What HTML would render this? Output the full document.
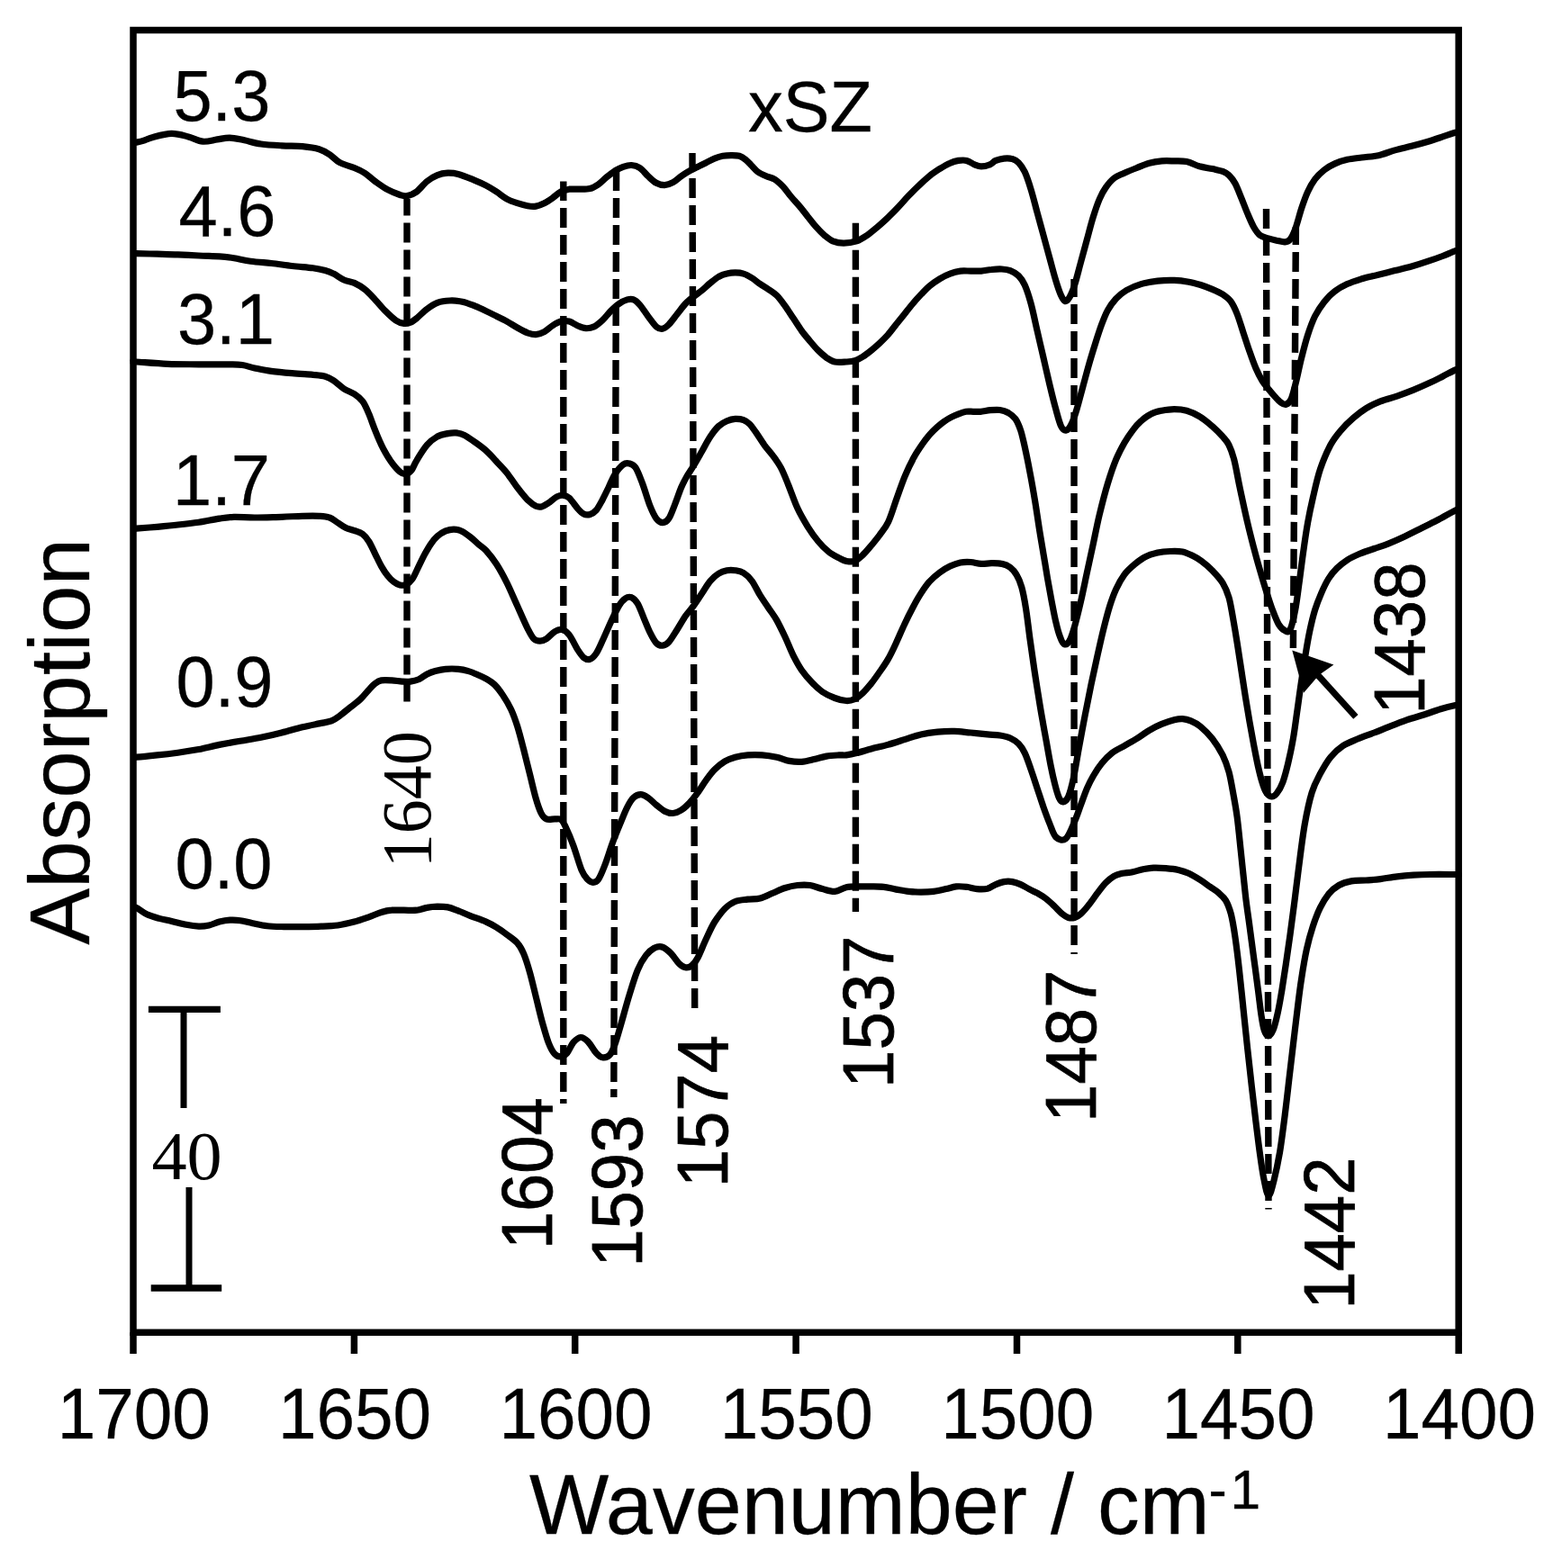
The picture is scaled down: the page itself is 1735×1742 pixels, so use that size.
<!DOCTYPE html>
<html><head><meta charset="utf-8"><title>FTIR spectra</title>
<style>html,body{margin:0;padding:0;background:#fff}svg{display:block}</style>
</head><body>
<svg width="1735" height="1742" viewBox="0 0 1735 1742">
<rect x="0" y="0" width="1735" height="1742" fill="#fff"/>
<path d="M148.0 158.1C148.6 158.1 149.4 158.5 151.5 158.1C153.7 157.7 157.7 156.8 160.7 155.8C163.8 154.9 165.0 153.6 170.0 152.4C175.0 151.1 184.2 148.5 190.7 148.4C197.3 148.4 203.4 150.4 209.2 151.9C214.9 153.4 219.9 156.7 225.3 157.2C230.7 157.7 236.4 155.6 241.4 154.9C246.4 154.2 250.3 152.9 255.3 153.1C260.3 153.2 265.6 154.7 271.4 155.8C277.2 157.0 282.9 159.0 289.9 160.0C296.8 161.0 305.2 161.4 312.9 161.8C320.6 162.3 329.0 162.1 336.0 162.7C342.9 163.4 349.4 164.3 354.4 165.7C359.4 167.2 362.1 169.0 365.9 171.5C369.8 174.0 372.9 178.2 377.5 180.7C382.1 183.2 389.0 184.6 393.6 186.5C398.2 188.4 401.3 189.8 405.1 192.2C409.0 194.7 412.4 198.4 416.7 201.5C420.9 204.5 425.9 208.2 430.5 210.7C435.1 213.2 440.7 215.3 444.3 216.5C448.0 217.6 449.3 218.2 452.4 217.6C455.5 217.0 459.1 215.7 462.8 213.0C466.4 210.3 470.5 204.5 474.3 201.5C478.1 198.4 482.0 196.1 485.8 194.6C489.7 193.0 493.5 192.4 497.3 192.2C501.2 192.1 503.9 192.1 508.9 193.4C513.9 194.7 522.1 198.2 527.3 200.3C532.5 202.4 536.0 204.0 540.0 206.1C544.0 208.2 547.7 210.5 551.5 213.0C555.4 215.5 559.2 219.0 563.1 221.1C566.9 223.2 570.7 224.4 574.6 225.7C578.4 226.9 582.7 228.1 586.1 228.7C589.6 229.3 592.3 229.6 595.3 229.1C598.4 228.6 601.5 227.2 604.6 225.7C607.6 224.1 610.7 222.0 613.8 219.9C616.8 217.8 619.9 214.6 623.0 213.0C626.1 211.4 628.8 210.7 632.2 210.2C635.7 209.8 639.9 210.3 643.7 210.2C647.6 210.1 651.8 210.4 655.3 209.5C658.7 208.7 661.4 207.0 664.5 204.9C667.6 202.8 670.6 199.4 673.7 196.9C676.8 194.4 679.9 191.9 682.9 189.9C686.0 188.0 689.1 186.4 692.2 185.3C695.2 184.3 698.3 183.3 701.4 183.5C704.5 183.7 707.5 184.4 710.6 186.5C713.7 188.5 716.8 192.9 719.8 195.7C722.9 198.5 726.0 201.7 729.0 203.3C732.1 205.0 735.2 205.7 738.3 205.6C741.3 205.5 744.4 204.3 747.5 202.6C750.6 201.0 753.6 197.8 756.7 195.7C759.8 193.6 762.9 191.7 765.9 189.9C769.0 188.2 772.1 186.9 775.2 185.3C778.2 183.8 781.3 182.3 784.4 180.7C787.5 179.2 790.5 177.3 793.6 176.1C796.7 174.9 799.8 173.9 802.8 173.3C805.9 172.8 809.0 172.7 812.0 172.7C815.1 172.7 818.6 172.6 821.3 173.3C824.0 174.1 825.9 175.5 828.2 177.3C830.5 179.1 832.8 181.9 835.1 184.2C837.4 186.5 839.3 189.2 842.0 191.1C844.7 193.0 848.2 194.4 851.2 195.7C854.3 197.1 857.4 197.2 860.5 199.2C863.5 201.1 866.6 204.0 869.7 207.2C872.8 210.5 875.8 215.1 878.9 218.8C882.0 222.4 885.1 225.5 888.1 229.1C891.2 232.8 894.3 236.8 897.3 240.7C900.4 244.5 903.5 248.7 906.6 252.2C909.6 255.6 912.7 258.8 915.8 261.4C918.9 264.0 921.5 266.4 925.0 267.9C928.6 269.3 932.7 270.2 937.1 270.2C941.5 270.2 947.2 269.3 951.5 267.9C955.9 266.4 959.2 264.0 963.1 261.4C966.9 258.8 970.7 255.5 974.6 252.2C978.4 248.9 982.3 245.5 986.1 241.8C990.0 238.2 993.8 234.3 997.6 230.3C1001.5 226.3 1005.3 221.6 1009.2 217.6C1013.0 213.6 1016.8 209.7 1020.7 206.1C1024.5 202.4 1028.4 198.8 1032.2 195.7C1036.1 192.6 1039.9 190.1 1043.7 187.6C1047.6 185.2 1051.8 182.7 1055.3 181.2C1058.7 179.6 1061.4 178.9 1064.5 178.4C1067.6 178.0 1070.6 177.6 1073.7 178.4C1076.8 179.2 1080.2 182.0 1082.9 183.0C1085.6 184.1 1087.2 184.9 1089.9 184.9C1092.5 184.9 1096.4 184.1 1099.1 183.0C1101.8 182.0 1103.3 179.6 1106.0 178.4C1108.7 177.3 1112.1 176.4 1115.2 176.1C1118.3 175.8 1121.7 175.8 1124.4 176.6C1127.1 177.3 1129.0 178.3 1131.4 180.7C1133.7 183.1 1136.0 186.1 1138.3 191.1C1140.6 196.1 1142.9 203.2 1145.2 210.7C1147.5 218.2 1149.8 227.6 1152.1 236.1C1154.4 244.5 1156.7 253.0 1159.0 261.4C1161.3 269.9 1163.6 278.3 1165.9 286.8C1168.2 295.2 1170.7 305.2 1172.9 312.1C1175.0 319.0 1176.9 324.5 1178.6 328.3C1180.3 332.0 1181.7 334.3 1183.2 334.7C1184.8 335.1 1186.1 333.6 1187.8 330.6C1189.6 327.6 1191.5 323.3 1193.6 316.7C1195.7 310.2 1198.2 299.8 1200.5 291.4C1202.8 282.9 1205.1 274.5 1207.4 266.0C1209.7 257.6 1212.0 248.2 1214.4 240.7C1216.7 233.2 1219.0 226.4 1221.3 221.1C1223.6 215.7 1225.5 212.2 1228.2 208.4C1230.9 204.5 1233.9 200.7 1237.4 198.0C1240.9 195.3 1244.7 194.2 1248.9 192.2C1253.2 190.3 1258.2 188.3 1262.8 186.5C1267.4 184.6 1272.0 182.4 1276.6 181.2C1281.2 179.9 1285.8 179.3 1290.4 178.9C1295.0 178.5 1299.7 178.8 1304.3 178.9C1308.9 179.0 1313.4 178.6 1318.1 179.6C1322.8 180.5 1327.6 183.4 1332.3 184.8C1337.1 186.1 1342.2 186.7 1346.5 187.6C1350.8 188.6 1355.0 189.3 1358.1 190.4C1361.1 191.6 1362.7 192.3 1365.0 194.6C1367.3 196.8 1369.6 199.5 1371.9 203.8C1374.2 208.0 1376.5 214.3 1378.8 219.9C1381.1 225.5 1383.4 231.8 1385.7 237.2C1388.0 242.6 1390.3 248.2 1392.6 252.2C1394.9 256.2 1396.9 259.3 1399.6 261.4C1402.2 263.5 1405.7 263.9 1408.8 264.9C1411.8 265.8 1414.9 266.5 1418.0 267.2C1421.1 267.8 1424.7 269.0 1427.2 268.8C1429.7 268.6 1431.1 268.4 1433.0 266.0C1434.9 263.6 1436.6 260.3 1438.7 254.5C1440.9 248.7 1443.4 238.4 1445.7 231.4C1448.0 224.5 1450.1 218.4 1452.6 213.0C1455.1 207.6 1457.6 203.2 1460.6 199.2C1463.7 195.1 1467.4 191.7 1471.0 188.8C1474.7 185.9 1478.3 183.8 1482.6 181.9C1486.8 180.0 1491.4 178.4 1496.4 177.3C1501.4 176.1 1506.8 175.7 1512.5 175.0C1518.3 174.2 1524.8 174.0 1531.0 172.7C1537.1 171.3 1543.3 168.6 1549.4 166.9C1555.6 165.2 1561.7 163.9 1567.9 162.3C1574.0 160.7 1580.5 158.9 1586.3 157.2C1592.1 155.5 1597.4 153.6 1602.4 151.9C1607.5 150.2 1613.8 148.1 1616.7 147.3C1619.7 146.5 1619.6 147.3 1620.2 147.3" fill="none" stroke="#000" stroke-width="7.2" stroke-linejoin="round" stroke-linecap="butt"/>
<path d="M148.0 281.7C148.6 281.7 147.1 281.6 151.5 281.7C156.0 281.8 166.9 282.0 174.6 282.2C182.3 282.4 190.0 282.5 197.6 282.9C205.3 283.2 213.0 283.7 220.7 284.0C228.4 284.4 237.2 284.5 243.7 284.9C250.3 285.4 254.1 285.9 259.9 286.8C265.6 287.7 271.4 289.3 278.3 290.2C285.2 291.2 293.7 291.7 301.4 292.5C309.1 293.4 316.8 294.6 324.4 295.5C332.1 296.4 341.3 297.0 347.5 297.8C353.6 298.7 357.5 299.6 361.3 300.6C365.2 301.6 367.1 302.3 370.5 304.1C374.0 305.8 378.2 309.3 382.1 311.0C385.9 312.7 389.8 312.7 393.6 314.4C397.4 316.2 401.3 318.3 405.1 321.4C409.0 324.4 412.8 328.8 416.7 332.9C420.5 336.9 424.3 341.7 428.2 345.6C432.0 349.4 436.3 353.6 439.7 355.9C443.2 358.2 446.2 359.0 448.9 359.4C451.6 359.8 453.5 359.2 455.9 358.2C458.2 357.3 459.7 356.1 462.8 353.6C465.8 351.1 470.5 346.1 474.3 343.3C478.1 340.4 481.6 337.9 485.8 336.3C490.0 334.8 495.0 334.2 499.7 334.0C504.3 333.8 508.9 334.2 513.5 335.2C518.1 336.1 522.9 338.1 527.3 339.8C531.7 341.5 536.0 343.6 540.0 345.6C544.0 347.5 547.7 349.4 551.5 351.3C555.4 353.2 559.2 355.0 563.1 357.1C566.9 359.2 570.7 361.9 574.6 364.0C578.4 366.1 582.7 368.5 586.1 369.8C589.6 371.0 592.3 371.8 595.3 371.6C598.4 371.4 601.5 370.3 604.6 368.6C607.6 367.0 610.7 363.6 613.8 361.7C616.8 359.8 619.9 357.9 623.0 357.1C626.1 356.3 629.1 356.3 632.2 357.1C635.3 357.9 638.4 360.4 641.4 361.7C644.5 363.0 647.6 364.5 650.7 364.7C653.7 364.9 656.8 364.3 659.9 362.9C663.0 361.4 666.0 358.8 669.1 355.9C672.2 353.1 675.3 348.6 678.3 345.6C681.4 342.5 684.5 339.6 687.6 337.5C690.6 335.4 694.1 333.7 696.8 332.9C699.5 332.1 701.4 331.9 703.7 332.9C706.0 333.8 707.9 335.6 710.6 338.6C713.3 341.7 716.8 347.3 719.8 351.3C722.9 355.4 726.4 360.5 729.0 362.9C731.7 365.2 733.7 365.5 736.0 365.2C738.3 364.8 740.2 363.2 742.9 360.5C745.6 357.9 749.0 352.9 752.1 349.0C755.2 345.2 758.3 340.8 761.3 337.5C764.4 334.2 767.5 331.9 770.5 329.4C773.6 326.9 776.7 325.0 779.8 322.5C782.8 320.0 785.9 316.9 789.0 314.4C792.1 311.9 795.1 309.3 798.2 307.5C801.3 305.8 804.4 304.8 807.4 304.1C810.5 303.3 813.6 302.9 816.7 302.9C819.7 302.9 822.8 303.1 825.9 304.1C829.0 305.0 832.0 306.8 835.1 308.7C838.2 310.6 841.2 313.5 844.3 315.6C847.4 317.7 850.5 319.2 853.5 321.4C856.6 323.5 859.7 325.2 862.8 328.3C865.8 331.3 868.9 335.6 872.0 339.8C875.1 344.0 878.1 349.0 881.2 353.6C884.3 358.2 887.4 363.2 890.4 367.5C893.5 371.7 896.6 375.3 899.7 379.0C902.7 382.6 905.8 386.3 908.9 389.4C912.0 392.4 915.0 395.3 918.1 397.4C921.2 399.5 923.7 401.3 927.3 402.0C931.0 402.8 936.3 402.2 940.0 402.0C943.7 401.9 946.1 401.9 949.2 400.9C952.3 399.9 955.4 398.2 958.4 396.3C961.5 394.4 964.6 391.9 967.7 389.4C970.7 386.9 973.8 384.2 976.9 381.3C980.0 378.4 983.0 375.5 986.1 372.1C989.2 368.6 992.3 364.4 995.3 360.5C998.4 356.7 1001.5 352.9 1004.6 349.0C1007.6 345.2 1010.7 341.1 1013.8 337.5C1016.8 333.8 1019.9 330.4 1023.0 327.1C1026.1 323.9 1028.8 320.8 1032.2 317.9C1035.7 315.0 1039.9 312.1 1043.7 309.8C1047.6 307.5 1051.4 305.5 1055.3 304.1C1059.1 302.6 1063.0 301.6 1066.8 301.1C1070.6 300.6 1074.5 301.1 1078.3 301.1C1082.2 301.1 1086.0 301.3 1089.9 301.1C1093.7 300.8 1097.5 299.8 1101.4 299.5C1105.2 299.1 1109.5 298.8 1112.9 299.0C1116.4 299.2 1119.1 299.4 1122.1 300.6C1125.2 301.8 1128.7 303.7 1131.4 306.4C1134.0 309.1 1136.0 311.6 1138.3 316.7C1140.6 321.9 1142.9 329.0 1145.2 337.5C1147.5 345.9 1149.8 357.5 1152.1 367.5C1154.4 377.5 1156.7 387.4 1159.0 397.4C1161.3 407.4 1163.6 417.8 1165.9 427.4C1168.2 437.0 1170.7 447.4 1172.9 455.1C1175.0 462.8 1176.7 469.7 1178.6 473.5C1180.5 477.4 1182.5 478.5 1184.4 478.1C1186.3 477.7 1188.2 475.1 1190.1 471.2C1192.1 467.4 1193.8 462.0 1195.9 455.1C1198.0 448.2 1200.5 438.2 1202.8 429.7C1205.1 421.3 1207.4 412.4 1209.7 404.4C1212.0 396.3 1214.4 388.6 1216.7 381.3C1219.0 374.0 1221.3 366.7 1223.6 360.5C1225.9 354.4 1227.8 349.2 1230.5 344.4C1233.2 339.6 1236.3 335.4 1239.7 331.7C1243.2 328.1 1246.6 325.2 1251.2 322.5C1255.9 319.8 1261.6 317.3 1267.4 315.6C1273.1 313.9 1279.7 312.8 1285.8 312.1C1292.0 311.4 1298.5 311.2 1304.3 311.4C1310.0 311.6 1315.5 312.4 1320.4 313.3C1325.3 314.1 1329.1 315.2 1333.5 316.5C1337.8 317.9 1342.4 319.6 1346.5 321.4C1350.6 323.1 1354.6 324.8 1358.1 327.1C1361.5 329.4 1364.6 331.5 1367.3 335.2C1370.0 338.8 1371.9 343.3 1374.2 349.0C1376.5 354.8 1378.8 362.9 1381.1 369.8C1383.4 376.7 1385.7 384.0 1388.0 390.5C1390.3 397.1 1392.6 403.6 1394.9 409.0C1397.2 414.3 1399.6 419.0 1401.9 422.8C1404.2 426.6 1406.5 429.1 1408.8 432.0C1411.1 434.9 1413.4 437.6 1415.7 440.1C1418.0 442.6 1420.5 445.5 1422.6 447.0C1424.7 448.5 1426.5 449.9 1428.4 449.3C1430.3 448.7 1432.2 448.0 1434.1 443.5C1436.1 439.1 1438.0 430.5 1439.9 422.8C1441.8 415.1 1443.5 405.9 1445.7 397.4C1447.8 389.0 1450.1 379.8 1452.6 372.1C1455.1 364.4 1457.6 357.5 1460.6 351.3C1463.7 345.2 1467.4 339.8 1471.0 335.2C1474.7 330.6 1478.3 326.9 1482.6 323.7C1486.8 320.4 1491.4 317.9 1496.4 315.6C1501.4 313.3 1506.8 311.6 1512.5 309.8C1518.3 308.1 1524.8 306.8 1531.0 305.2C1537.1 303.7 1543.3 302.1 1549.4 300.6C1555.6 299.1 1561.7 297.7 1567.9 296.0C1574.0 294.3 1580.5 292.2 1586.3 290.2C1592.1 288.3 1597.4 286.4 1602.4 284.5C1607.5 282.5 1613.8 279.7 1616.7 278.7C1619.7 277.7 1619.6 278.7 1620.2 278.7" fill="none" stroke="#000" stroke-width="7.2" stroke-linejoin="round" stroke-linecap="butt"/>
<path d="M148.0 402.0C148.6 402.0 145.2 401.7 151.5 402.0C157.9 402.4 174.6 403.9 186.1 404.4C197.6 404.8 209.2 404.7 220.7 404.8C232.2 404.9 247.2 404.7 255.3 404.8C263.3 404.9 264.5 404.8 269.1 405.5C273.7 406.2 277.6 407.8 282.9 409.0C288.3 410.1 294.5 411.5 301.4 412.4C308.3 413.4 316.8 414.1 324.4 414.7C332.1 415.4 341.3 415.8 347.5 416.3C353.6 416.9 357.5 417.1 361.3 418.2C365.2 419.3 367.1 420.5 370.5 422.8C374.0 425.1 378.2 429.5 382.1 432.0C385.9 434.5 390.1 435.5 393.6 437.8C397.1 440.1 400.1 442.2 402.8 445.9C405.5 449.5 407.4 454.3 409.7 459.7C412.0 465.1 414.0 471.6 416.7 478.1C419.3 484.7 422.8 492.9 425.9 498.9C429.0 504.8 432.0 509.6 435.1 513.9C438.2 518.1 441.7 522.1 444.3 524.2C446.9 526.3 448.4 526.8 450.5 526.5C452.7 526.3 455.0 525.1 457.0 522.6C459.0 520.1 459.9 516.3 462.8 511.6C465.6 506.8 470.5 498.7 474.3 494.3C478.1 489.8 482.0 487.2 485.8 485.0C489.7 482.9 493.9 482.3 497.3 481.6C500.8 480.9 503.5 480.6 506.6 480.9C509.6 481.2 512.3 481.7 515.8 483.4C519.3 485.1 523.3 488.2 527.3 491.0C531.4 493.9 536.0 497.1 540.0 500.7C544.0 504.3 547.7 508.6 551.5 512.7C555.4 516.8 559.2 520.6 563.1 525.4C566.9 530.2 570.7 536.5 574.6 541.5C578.4 546.5 582.7 551.9 586.1 555.4C589.6 558.8 592.6 561.0 595.3 562.3C598.0 563.5 599.9 563.3 602.2 562.7C604.6 562.2 606.5 560.6 609.2 558.8C611.9 557.0 615.6 553.3 618.4 551.9C621.2 550.5 623.5 550.1 625.8 550.3C628.1 550.5 629.6 550.7 632.2 553.1C634.8 555.4 638.8 561.6 641.4 564.6C644.1 567.6 646.1 569.9 648.4 571.0C650.7 572.2 653.0 572.2 655.3 571.5C657.6 570.8 659.9 569.6 662.2 566.9C664.5 564.2 666.8 559.6 669.1 555.4C671.4 551.1 673.7 546.2 676.0 541.5C678.3 536.8 680.2 531.3 682.9 527.1C685.6 522.9 689.5 518.2 692.2 516.2C694.9 514.1 696.8 514.4 699.1 515.0C701.4 515.6 703.6 516.0 706.0 519.6C708.4 523.3 710.8 529.8 713.5 536.9C716.2 544.0 719.5 555.7 722.1 562.3C724.7 568.8 726.7 573.0 729.0 576.1C731.4 579.2 733.7 580.7 736.0 580.7C738.3 580.7 740.6 579.6 742.9 576.1C745.2 572.7 747.5 565.7 749.8 560.0C752.1 554.2 754.6 546.5 756.7 541.5C758.8 536.5 760.2 534.0 762.5 530.0C764.8 526.0 767.7 522.1 770.5 517.3C773.4 512.5 776.7 506.6 779.8 501.2C782.8 495.8 785.9 489.7 789.0 485.0C792.1 480.4 795.1 476.4 798.2 473.5C801.3 470.6 804.4 469.1 807.4 467.8C810.5 466.4 813.6 465.6 816.7 465.4C819.7 465.3 823.2 465.6 825.9 466.6C828.6 467.6 830.5 468.9 832.8 471.2C835.1 473.5 837.0 476.6 839.7 480.4C842.4 484.3 845.9 490.0 848.9 494.3C852.0 498.5 855.1 501.6 858.2 505.8C861.2 510.0 864.5 514.2 867.4 519.6C870.3 525.0 872.4 530.6 875.4 538.1C878.5 545.6 882.2 556.7 885.8 564.6C889.5 572.5 893.5 579.2 897.3 585.3C901.2 591.5 905.0 596.9 908.9 601.5C912.7 606.1 916.6 609.9 920.4 613.0C924.2 616.1 928.7 618.2 931.9 619.9C935.2 621.6 937.1 622.8 940.0 623.4C942.9 623.9 946.1 624.5 949.2 623.4C952.3 622.2 955.4 619.3 958.4 616.5C961.5 613.6 964.6 609.7 967.7 606.1C970.7 602.4 973.7 598.9 976.9 594.6C980.0 590.2 983.4 586.9 986.6 580.0C989.9 573.1 993.2 561.5 996.3 553.0C999.4 544.4 1002.1 536.2 1005.2 528.8C1008.3 521.4 1011.6 514.5 1014.9 508.6C1018.1 502.7 1021.6 497.6 1024.6 493.3C1027.5 489.0 1029.9 485.9 1032.6 482.8C1035.3 479.7 1038.0 477.1 1040.7 474.7C1043.4 472.3 1046.1 470.1 1048.8 468.2C1051.5 466.4 1054.1 464.8 1056.8 463.4C1059.5 462.0 1062.2 460.8 1064.9 459.8C1067.6 458.8 1070.3 457.8 1073.0 457.3C1075.7 456.9 1078.3 457.3 1081.0 457.3C1083.7 457.3 1085.9 457.6 1089.1 457.3C1092.3 457.1 1096.4 456.0 1100.0 455.7C1103.6 455.4 1107.3 455.1 1110.6 455.5C1113.9 456.0 1116.9 456.9 1119.8 458.5C1122.7 460.2 1125.6 462.2 1127.9 465.4C1130.2 468.7 1131.9 472.9 1133.7 478.1C1135.4 483.3 1136.5 488.8 1138.3 496.6C1140.0 504.4 1142.1 514.6 1144.0 524.8C1146.0 535.0 1148.1 547.2 1149.8 557.7C1151.5 568.1 1152.9 578.0 1154.4 587.6C1155.9 597.2 1157.5 606.1 1159.0 615.3C1160.6 624.5 1162.1 634.1 1163.6 643.0C1165.2 651.8 1166.7 660.3 1168.2 668.3C1169.8 676.4 1171.3 684.9 1172.9 691.4C1174.4 697.9 1175.9 703.5 1177.5 707.5C1179.0 711.6 1180.3 714.8 1182.1 715.6C1183.8 716.4 1185.9 715.4 1187.8 712.1C1189.8 708.9 1191.5 703.3 1193.6 696.0C1195.7 688.7 1198.2 678.3 1200.5 668.3C1202.8 658.3 1205.1 646.8 1207.4 636.1C1209.7 625.3 1212.0 614.5 1214.4 603.8C1216.7 593.0 1218.6 582.6 1221.3 571.5C1224.0 560.4 1227.4 547.1 1230.5 536.9C1233.6 526.7 1236.6 517.9 1239.7 510.4C1242.8 502.9 1245.9 497.3 1248.9 492.0C1252.0 486.6 1255.1 482.2 1258.2 478.1C1261.2 474.1 1263.9 470.8 1267.4 467.8C1270.8 464.7 1275.1 461.6 1278.9 459.7C1282.7 457.8 1286.2 457.1 1290.4 456.2C1294.7 455.4 1299.7 454.6 1304.3 454.6C1308.9 454.6 1313.4 454.9 1318.1 456.2C1322.8 457.6 1327.6 459.7 1332.3 462.6C1337.1 465.4 1342.2 469.8 1346.5 473.5C1350.8 477.3 1355.0 481.6 1358.1 485.0C1361.1 488.5 1362.9 490.0 1365.0 494.3C1367.1 498.5 1368.7 502.5 1370.7 510.4C1372.8 518.3 1374.6 529.8 1377.1 541.5C1379.6 553.2 1383.1 569.6 1385.7 580.7C1388.3 591.9 1390.3 599.5 1392.6 608.4C1394.9 617.2 1397.2 625.7 1399.6 633.7C1401.9 641.8 1404.2 649.5 1406.5 656.8C1408.8 664.1 1411.1 671.4 1413.4 677.6C1415.7 683.7 1418.0 689.8 1420.3 693.7C1422.6 697.5 1425.1 699.6 1427.2 700.6C1429.3 701.6 1431.1 703.3 1433.0 699.5C1434.9 695.6 1437.0 686.6 1438.7 677.6C1440.5 668.5 1441.8 656.4 1443.4 645.3C1444.9 634.1 1446.4 621.5 1448.0 610.7C1449.5 599.9 1450.9 590.3 1452.6 580.7C1454.3 571.1 1456.0 562.9 1458.3 553.1C1460.6 543.2 1463.1 531.2 1466.4 521.4C1469.7 511.6 1474.1 501.5 1477.9 494.3C1481.8 487.1 1485.2 483.1 1489.5 478.1C1493.7 473.1 1498.7 468.3 1503.3 464.3C1507.9 460.3 1512.1 457.0 1517.1 453.9C1522.1 450.8 1527.5 448.2 1533.3 445.9C1539.0 443.5 1545.6 442.2 1551.7 440.1C1557.9 438.0 1564.0 435.7 1570.2 433.2C1576.3 430.7 1583.2 427.6 1588.6 425.1C1594.0 422.6 1597.7 420.6 1602.4 418.2C1607.1 415.8 1613.8 412.0 1616.7 410.8C1619.7 409.6 1619.6 410.8 1620.2 410.8" fill="none" stroke="#000" stroke-width="7.2" stroke-linejoin="round" stroke-linecap="butt"/>
<path d="M148.0 587.2C148.6 587.2 147.1 587.5 151.5 587.2C156.0 586.9 166.9 586.0 174.6 585.3C182.3 584.6 190.0 583.9 197.6 583.0C205.3 582.2 213.0 581.4 220.7 580.3C228.4 579.1 237.2 577.1 243.7 576.1C250.3 575.1 253.4 574.5 259.9 574.3C266.4 574.1 274.1 575.0 282.9 575.0C291.8 575.0 304.1 574.5 312.9 574.3C321.7 574.0 329.0 573.5 336.0 573.3C342.9 573.2 349.4 573.1 354.4 573.3C359.4 573.6 362.5 573.7 365.9 575.0C369.4 576.2 372.1 578.8 375.2 580.7C378.2 582.6 381.3 585.0 384.4 586.5C387.5 587.9 390.5 588.3 393.6 589.5C396.7 590.6 400.1 591.4 402.8 593.4C405.5 595.4 407.4 597.8 409.7 601.5C412.0 605.1 414.4 610.7 416.7 615.3C419.0 619.9 421.3 625.1 423.6 629.1C425.9 633.2 428.2 636.6 430.5 639.5C432.8 642.4 435.1 644.7 437.4 646.4C439.7 648.2 442.0 649.4 444.3 649.9C446.6 650.4 448.9 650.6 451.2 649.4C453.5 648.3 455.9 646.3 458.2 643.0C460.5 639.6 462.8 633.7 465.1 629.1C467.4 624.5 469.7 619.5 472.0 615.3C474.3 611.1 476.6 607.0 478.9 603.8C481.2 600.5 483.1 598.0 485.8 595.7C488.5 593.4 492.0 591.2 495.0 589.9C498.1 588.7 501.2 588.0 504.3 588.1C507.3 588.2 510.4 588.9 513.5 590.4C516.6 591.9 519.6 594.4 522.7 596.9C525.8 599.3 529.0 602.4 531.9 604.9C534.8 607.4 536.7 608.2 540.0 611.8C543.3 615.5 547.7 620.9 551.5 626.8C555.4 632.8 559.2 639.9 563.1 647.6C566.9 655.3 570.7 664.5 574.6 672.9C578.4 681.4 583.0 692.2 586.1 698.3C589.2 704.4 590.7 707.5 593.0 709.8C595.3 712.1 597.6 712.1 599.9 712.1C602.2 712.1 604.2 711.6 606.9 709.8C609.5 708.1 613.2 703.5 616.1 701.8C619.0 700.0 621.5 698.9 624.1 699.5C626.8 700.0 629.3 701.6 632.2 705.2C635.1 708.9 638.8 717.1 641.4 721.4C644.1 725.6 646.1 728.7 648.4 730.6C650.7 732.4 653.0 733.2 655.3 732.4C657.6 731.7 659.9 729.3 662.2 726.0C664.5 722.6 666.4 717.9 669.1 712.1C671.8 706.4 675.3 697.9 678.3 691.4C681.4 684.9 684.9 677.4 687.6 672.9C690.2 668.5 692.2 666.4 694.5 664.9C696.8 663.3 699.1 662.8 701.4 663.7C703.7 664.7 706.0 666.8 708.3 670.6C710.6 674.5 712.9 681.4 715.2 686.8C717.5 692.2 719.8 698.3 722.1 702.9C724.4 707.5 726.7 712.1 729.0 714.4C731.4 716.8 733.7 717.4 736.0 717.2C738.3 717.0 740.2 716.2 742.9 713.3C745.6 710.3 749.0 704.3 752.1 699.5C755.2 694.6 758.3 688.9 761.3 684.5C764.4 680.0 767.5 677.2 770.5 672.9C773.6 668.7 776.7 663.7 779.8 659.1C782.8 654.5 785.9 648.9 789.0 645.3C792.1 641.6 795.1 639.1 798.2 637.2C801.3 635.3 804.4 634.3 807.4 633.7C810.5 633.2 813.6 633.3 816.7 633.7C819.7 634.2 822.8 634.6 825.9 636.5C829.0 638.4 832.0 641.1 835.1 645.3C838.2 649.4 841.2 656.4 844.3 661.4C847.4 666.4 850.5 670.6 853.5 675.2C856.6 679.9 859.7 683.7 862.8 689.1C865.8 694.5 868.9 701.0 872.0 707.5C875.1 714.1 878.1 722.1 881.2 728.3C884.3 734.4 887.0 739.4 890.4 744.4C893.9 749.4 898.1 754.2 902.0 758.2C905.8 762.3 909.3 765.7 913.5 768.6C917.7 771.5 922.9 773.9 927.3 775.5C931.7 777.2 936.3 778.3 940.0 778.5C943.7 778.7 946.1 778.1 949.2 776.7C952.3 775.2 955.4 772.7 958.4 769.8C961.5 766.9 964.6 763.2 967.7 759.4C970.7 755.6 973.8 751.1 976.9 746.7C980.0 742.3 983.0 738.3 986.1 732.9C989.2 727.5 992.3 721.0 995.3 714.4C998.4 707.9 1001.5 700.2 1004.6 693.7C1007.6 687.2 1010.7 681.0 1013.8 675.2C1016.8 669.5 1019.9 663.9 1023.0 659.1C1026.1 654.3 1028.8 650.3 1032.2 646.4C1035.7 642.6 1039.9 638.9 1043.7 636.1C1047.6 633.2 1051.4 631.0 1055.3 629.1C1059.1 627.3 1063.0 625.8 1066.8 625.0C1070.6 624.2 1074.5 624.3 1078.3 624.5C1082.2 624.8 1086.0 626.2 1089.9 626.4C1093.7 626.6 1097.5 625.7 1101.4 625.7C1105.2 625.7 1109.5 625.6 1112.9 626.4C1116.4 627.1 1119.4 628.3 1122.1 630.3C1124.8 632.3 1126.9 634.7 1129.0 638.4C1131.2 642.0 1133.1 646.0 1134.8 652.2C1136.5 658.3 1137.9 665.6 1139.4 675.2C1141.0 684.9 1142.5 698.7 1144.0 709.8C1145.6 721.0 1147.1 731.7 1148.6 742.1C1150.2 752.5 1151.7 762.5 1153.3 772.1C1154.8 781.7 1156.3 790.9 1157.9 799.7C1159.4 808.6 1160.9 816.6 1162.5 825.1C1164.0 833.6 1165.6 842.8 1167.1 850.5C1168.6 858.1 1170.2 865.3 1171.7 871.2C1173.2 877.2 1174.8 882.9 1176.3 886.2C1177.8 889.5 1179.2 891.0 1180.9 890.8C1182.7 890.6 1184.8 889.5 1186.7 885.0C1188.6 880.6 1190.5 873.1 1192.4 864.3C1194.4 855.5 1196.1 843.5 1198.2 832.0C1200.3 820.5 1202.8 807.0 1205.1 795.1C1207.4 783.2 1209.7 771.7 1212.0 760.5C1214.4 749.4 1216.7 738.6 1219.0 728.3C1221.3 717.9 1223.6 707.5 1225.9 698.3C1228.2 689.1 1230.5 680.2 1232.8 672.9C1235.1 665.6 1237.0 660.3 1239.7 654.5C1242.4 648.7 1245.5 643.0 1248.9 638.4C1252.4 633.7 1256.6 630.1 1260.5 626.8C1264.3 623.6 1267.8 620.9 1272.0 618.8C1276.2 616.6 1281.2 615.2 1285.8 614.1C1290.4 613.1 1295.0 612.7 1299.7 612.5C1304.3 612.3 1309.3 612.2 1313.5 613.0C1317.7 613.8 1321.5 615.9 1325.0 617.6C1328.5 619.3 1331.0 620.7 1334.6 623.4C1338.2 626.1 1342.6 629.7 1346.5 633.7C1350.4 637.8 1355.0 642.6 1358.1 647.6C1361.1 652.6 1363.0 657.2 1365.0 663.7C1366.9 670.2 1368.0 678.3 1369.6 686.8C1371.1 695.2 1372.7 704.8 1374.2 714.4C1375.7 724.0 1377.3 734.4 1378.8 744.4C1380.3 754.4 1381.9 764.8 1383.4 774.4C1385.0 784.0 1386.5 793.2 1388.0 802.0C1389.6 810.9 1391.1 819.3 1392.6 827.4C1394.2 835.5 1395.7 843.5 1397.2 850.5C1398.8 857.4 1400.3 863.9 1401.9 868.9C1403.4 873.9 1404.7 877.7 1406.5 880.4C1408.2 883.1 1410.3 884.9 1412.2 885.0C1414.2 885.2 1415.9 884.3 1418.0 881.6C1420.1 878.9 1422.8 874.5 1424.9 868.9C1427.0 863.3 1428.8 856.2 1430.7 848.2C1432.6 840.1 1434.7 830.5 1436.4 820.5C1438.2 810.5 1439.5 799.0 1441.1 788.2C1442.6 777.5 1444.1 766.3 1445.7 755.9C1447.2 745.6 1448.7 735.2 1450.3 726.0C1451.8 716.7 1453.2 708.7 1454.9 700.6C1456.6 692.5 1458.5 684.5 1460.6 677.6C1462.8 670.6 1465.1 664.9 1467.6 659.1C1470.1 653.3 1472.8 647.6 1475.6 643.0C1478.5 638.4 1481.4 634.9 1484.9 631.4C1488.3 628.0 1492.2 624.9 1496.4 622.2C1500.6 619.5 1505.2 617.4 1510.2 615.3C1515.2 613.2 1521.0 611.5 1526.4 609.5C1531.7 607.6 1536.7 606.1 1542.5 603.8C1548.3 601.5 1554.8 598.6 1560.9 595.7C1567.1 592.8 1573.2 589.6 1579.4 586.5C1585.5 583.4 1591.6 580.5 1597.8 577.3C1604.0 574.0 1613.0 568.6 1616.7 566.9C1620.5 565.2 1619.6 566.9 1620.2 566.9" fill="none" stroke="#000" stroke-width="7.2" stroke-linejoin="round" stroke-linecap="butt"/>
<path d="M148.0 841.2C148.6 841.2 147.1 841.6 151.5 841.2C156.0 840.9 166.9 839.8 174.6 838.9C182.3 838.1 190.0 837.2 197.6 836.2C205.3 835.1 213.0 833.9 220.7 832.5C228.4 831.0 236.1 828.9 243.7 827.4C251.4 825.9 259.1 824.6 266.8 823.3C274.5 821.9 282.2 820.9 289.9 819.3C297.5 817.8 305.2 816.0 312.9 814.0C320.6 812.1 329.0 809.5 336.0 807.8C342.9 806.1 349.0 805.0 354.4 803.9C359.8 802.7 364.4 802.4 368.2 800.9C372.1 799.4 374.0 797.6 377.5 795.1C380.9 792.6 385.1 789.0 389.0 785.9C392.8 782.8 397.1 780.0 400.5 776.7C404.0 773.4 407.1 769.2 409.7 766.3C412.4 763.4 414.4 761.1 416.7 759.4C419.0 757.7 420.5 756.5 423.6 755.9C426.6 755.4 431.3 755.7 435.1 755.9C438.9 756.1 443.2 756.9 446.6 757.1C450.1 757.3 452.8 757.5 455.9 757.1C458.9 756.7 462.0 756.1 465.1 754.8C468.1 753.4 471.2 750.6 474.3 749.0C477.4 747.5 480.1 746.5 483.5 745.6C487.0 744.6 490.8 743.6 495.0 743.3C499.3 742.9 504.6 742.9 508.9 743.3C513.1 743.6 516.6 744.4 520.4 745.6C524.2 746.7 528.7 748.8 531.9 750.2C535.2 751.6 537.1 752.4 540.0 754.1C542.9 755.8 546.1 757.6 549.2 760.5C552.3 763.5 555.4 767.5 558.4 772.1C561.5 776.7 565.0 782.4 567.7 788.2C570.4 794.0 572.3 799.4 574.6 806.7C576.9 814.0 579.2 823.2 581.5 832.0C583.8 840.9 586.1 850.5 588.4 859.7C590.7 868.9 593.2 880.0 595.3 887.3C597.4 894.6 599.2 899.7 601.1 903.5C603.0 907.3 604.4 908.9 606.9 909.9C609.4 911.0 613.4 909.9 616.1 909.9C618.8 910.0 621.1 909.2 623.0 910.4C624.9 911.6 625.3 912.5 627.6 917.3C629.9 922.1 633.8 931.0 636.8 939.2C639.9 947.5 643.4 960.5 646.1 966.9C648.7 973.2 650.9 975.0 653.0 977.3C655.1 979.5 656.8 980.3 658.7 980.3C660.7 980.3 662.4 980.3 664.5 977.3C666.6 974.3 668.7 969.2 671.4 962.3C674.1 955.4 677.6 944.0 680.6 935.8C683.7 927.5 687.2 919.2 689.9 912.7C692.5 906.2 694.5 901.0 696.8 896.6C699.1 892.2 701.2 888.5 703.7 886.2C706.2 883.9 709.1 882.7 711.8 882.7C714.4 882.7 716.9 884.3 719.8 886.2C722.7 888.1 726.0 891.8 729.0 894.3C732.1 896.8 735.2 899.6 738.3 901.2C741.3 902.7 744.4 903.7 747.5 903.5C750.6 903.3 753.6 902.0 756.7 900.0C759.8 898.1 762.9 895.2 765.9 892.0C769.0 888.7 772.1 884.7 775.2 880.4C778.2 876.2 781.3 870.8 784.4 866.6C787.5 862.4 790.1 858.5 793.6 855.1C797.1 851.6 801.3 848.2 805.1 845.9C809.0 843.5 812.4 842.4 816.7 841.2C820.9 840.1 825.5 839.3 830.5 838.9C835.5 838.5 841.2 838.5 846.6 838.9C852.0 839.3 857.8 840.2 862.8 841.2C867.8 842.3 872.0 844.5 876.6 845.4C881.2 846.2 885.8 846.6 890.4 846.3C895.0 846.0 899.7 844.6 904.3 843.5C908.9 842.5 913.5 840.9 918.1 840.1C922.7 839.3 928.3 839.1 931.9 838.9C935.6 838.7 936.7 839.3 940.0 838.9C943.3 838.5 946.9 837.8 951.5 836.6C956.1 835.5 961.9 833.6 967.7 832.0C973.4 830.5 980.0 829.1 986.1 827.4C992.3 825.7 998.4 823.6 1004.6 821.6C1010.7 819.7 1016.8 817.3 1023.0 815.9C1029.1 814.5 1035.3 813.7 1041.4 813.1C1047.6 812.5 1053.7 812.3 1059.9 812.4C1066.0 812.6 1072.2 813.5 1078.3 814.0C1084.5 814.6 1091.4 815.4 1096.8 815.9C1102.2 816.4 1106.4 816.3 1110.6 817.0C1114.8 817.7 1118.7 818.5 1122.1 820.0C1125.6 821.6 1128.7 823.5 1131.4 826.3C1134.0 829.0 1136.0 831.8 1138.3 836.6C1140.6 841.4 1142.9 848.5 1145.2 855.1C1147.5 861.6 1149.8 868.9 1152.1 875.8C1154.4 882.7 1156.7 890.0 1159.0 896.6C1161.3 903.1 1163.6 909.4 1165.9 915.0C1168.2 920.6 1169.9 927.2 1172.9 930.0C1175.8 932.8 1180.3 934.6 1183.8 931.7C1187.3 928.8 1190.8 919.0 1193.6 912.7C1196.4 906.5 1198.2 900.4 1200.5 894.3C1202.8 888.1 1205.1 881.2 1207.4 875.8C1209.7 870.4 1211.7 866.6 1214.4 862.0C1217.0 857.4 1220.1 852.4 1223.6 848.2C1227.0 843.9 1230.9 839.9 1235.1 836.6C1239.3 833.4 1244.3 831.2 1248.9 828.6C1253.5 825.9 1258.2 823.4 1262.8 820.5C1267.4 817.6 1272.0 814.0 1276.6 811.3C1281.2 808.6 1285.8 806.3 1290.4 804.4C1295.0 802.4 1300.4 800.7 1304.3 799.7C1308.1 798.8 1310.4 798.4 1313.5 798.6C1316.6 798.8 1319.4 799.5 1322.7 800.9C1326.0 802.3 1329.5 804.0 1333.5 807.2C1337.4 810.5 1342.4 815.2 1346.5 820.5C1350.6 825.8 1355.0 832.8 1358.1 838.9C1361.1 845.1 1363.0 850.5 1365.0 857.4C1366.9 864.3 1368.0 872.0 1369.6 880.4C1371.1 888.9 1372.8 897.3 1374.2 908.1C1375.6 918.9 1376.7 930.6 1378.2 945.0C1379.8 959.4 1381.8 980.5 1383.4 994.6C1385.0 1008.6 1386.5 1017.6 1388.0 1029.1C1389.6 1040.7 1391.1 1052.2 1392.6 1063.7C1394.2 1075.2 1395.9 1087.9 1397.2 1098.3C1398.6 1108.7 1399.6 1118.3 1400.7 1126.0C1401.9 1133.7 1402.8 1140.3 1404.2 1144.4C1405.5 1148.6 1407.1 1150.9 1408.8 1150.9C1410.4 1150.9 1412.3 1148.6 1414.1 1144.4C1415.8 1140.3 1417.5 1133.3 1419.1 1126.0C1420.8 1118.7 1422.2 1109.8 1423.8 1100.6C1425.3 1091.4 1426.8 1081.0 1428.4 1070.6C1429.9 1060.3 1431.4 1049.5 1433.0 1038.4C1434.5 1027.2 1436.1 1015.7 1437.6 1003.8C1439.1 991.9 1440.3 981.4 1442.2 966.9C1444.1 952.4 1446.6 931.2 1449.1 916.7C1451.6 902.3 1454.3 889.9 1457.2 880.4C1460.1 870.9 1463.0 866.2 1466.4 859.7C1469.9 853.2 1473.7 846.4 1477.9 841.2C1482.2 836.1 1486.8 831.9 1491.8 828.6C1496.8 825.2 1502.1 823.4 1507.9 821.0C1513.7 818.5 1520.2 816.4 1526.4 814.0C1532.5 811.7 1538.7 809.0 1544.8 806.7C1550.9 804.3 1557.1 801.9 1563.2 799.7C1569.4 797.6 1575.5 796.0 1581.7 794.0C1587.8 792.0 1594.3 789.5 1600.1 787.8C1606.0 786.0 1613.4 784.3 1616.7 783.6C1620.1 782.9 1619.6 783.6 1620.2 783.6" fill="none" stroke="#000" stroke-width="7.2" stroke-linejoin="round" stroke-linecap="butt"/>
<path d="M148.0 1008.4C148.6 1008.4 149.0 1007.2 151.5 1008.4C154.0 1009.6 158.8 1013.8 163.1 1015.8C167.3 1017.8 172.3 1019.1 176.9 1020.4C181.5 1021.6 185.7 1022.2 190.7 1023.4C195.7 1024.5 201.9 1026.3 206.9 1027.3C211.9 1028.3 216.5 1029.0 220.7 1029.1C224.9 1029.3 228.4 1028.8 232.2 1028.0C236.1 1027.1 239.9 1025.0 243.7 1024.1C247.6 1023.1 251.4 1022.4 255.3 1022.2C259.1 1022.0 262.6 1022.1 266.8 1022.7C271.0 1023.3 275.6 1024.7 280.6 1025.7C285.6 1026.7 291.0 1028.0 296.8 1028.7C302.5 1029.3 308.7 1029.4 315.2 1029.6C321.7 1029.8 329.0 1029.7 336.0 1029.6C342.9 1029.5 350.2 1029.4 356.7 1029.1C363.2 1028.9 369.0 1028.8 375.2 1028.0C381.3 1027.1 387.8 1025.6 393.6 1024.1C399.4 1022.5 404.7 1020.5 409.7 1018.8C414.7 1017.0 419.3 1014.7 423.6 1013.5C427.8 1012.2 430.9 1011.5 435.1 1011.2C439.3 1010.8 444.3 1011.2 448.9 1011.2C453.5 1011.2 458.5 1011.6 462.8 1011.2C467.0 1010.7 470.5 1009.0 474.3 1008.4C478.1 1007.7 482.0 1007.3 485.8 1007.2C489.7 1007.2 493.5 1007.2 497.3 1007.9C501.2 1008.7 504.6 1010.2 508.9 1011.8C513.1 1013.5 517.5 1015.6 522.7 1017.6C527.9 1019.6 535.2 1022.0 540.0 1024.1C544.8 1026.2 547.7 1027.9 551.5 1030.3C555.4 1032.7 559.2 1035.5 563.1 1038.4C566.9 1041.2 571.5 1044.1 574.6 1047.6C577.7 1051.0 579.2 1053.7 581.5 1059.1C583.8 1064.5 586.1 1071.8 588.4 1079.9C590.7 1087.9 593.0 1098.3 595.3 1107.5C597.6 1116.7 599.9 1126.7 602.2 1135.2C604.6 1143.6 606.9 1152.3 609.2 1158.2C611.5 1164.2 613.8 1168.3 616.1 1170.9C618.4 1173.5 620.7 1174.1 623.0 1173.9C625.3 1173.7 627.6 1172.4 629.9 1169.8C632.2 1167.2 634.3 1161.1 636.8 1158.2C639.3 1155.4 642.2 1152.7 644.9 1152.5C647.6 1152.3 650.1 1154.2 653.0 1157.1C655.9 1160.0 659.5 1166.8 662.2 1169.8C664.9 1172.7 666.6 1174.5 669.1 1174.8C671.6 1175.2 674.9 1174.5 677.2 1172.1C679.5 1169.7 680.8 1166.3 682.9 1160.5C685.1 1154.8 687.2 1146.7 689.9 1137.5C692.5 1128.3 696.0 1115.2 699.1 1105.2C702.2 1095.2 705.2 1084.9 708.3 1077.6C711.4 1070.2 714.4 1065.4 717.5 1061.4C720.6 1057.4 723.7 1054.9 726.7 1053.3C729.8 1051.8 732.9 1051.2 736.0 1052.2C739.0 1053.2 742.1 1056.0 745.2 1059.1C748.3 1062.2 751.7 1068.0 754.4 1070.6C757.1 1073.2 759.0 1074.4 761.3 1074.8C763.6 1075.2 765.9 1074.8 768.2 1072.9C770.5 1071.1 772.5 1068.7 775.2 1063.7C777.8 1058.7 781.3 1049.5 784.4 1043.0C787.5 1036.4 790.1 1030.1 793.6 1024.5C797.1 1019.0 801.3 1013.4 805.1 1009.5C809.0 1005.7 812.4 1003.2 816.7 1001.5C820.9 999.7 825.9 999.7 830.5 999.2C835.1 998.6 839.7 999.2 844.3 998.0C848.9 996.9 853.5 994.2 858.2 992.2C862.8 990.3 867.4 987.9 872.0 986.5C876.6 985.0 881.2 984.0 885.8 983.5C890.4 983.0 895.0 982.8 899.7 983.5C904.3 984.2 908.9 986.5 913.5 987.6C918.1 988.8 922.9 990.7 927.3 990.4C931.7 990.1 935.6 986.7 940.0 985.8C944.4 984.9 949.2 985.0 953.8 984.9C958.4 984.7 963.1 984.8 967.7 984.9C972.3 984.9 976.9 984.8 981.5 985.3C986.1 985.9 990.7 987.3 995.3 988.1C999.9 988.9 1004.6 989.9 1009.2 990.4C1013.8 990.9 1018.4 991.1 1023.0 991.1C1027.6 991.1 1032.2 991.0 1036.8 990.4C1041.4 989.8 1046.4 988.6 1050.7 987.6C1054.9 986.7 1058.3 985.3 1062.2 984.9C1066.0 984.5 1069.9 984.9 1073.7 985.3C1077.6 985.8 1081.4 987.3 1085.2 987.6C1089.1 987.9 1093.3 988.0 1096.8 987.2C1100.2 986.3 1102.9 983.8 1106.0 982.6C1109.1 981.3 1112.1 980.1 1115.2 979.6C1118.3 979.1 1121.4 979.1 1124.4 979.6C1127.5 980.1 1130.6 981.2 1133.7 982.6C1136.7 983.9 1139.8 986.0 1142.9 987.6C1146.0 989.3 1149.0 990.5 1152.1 992.2C1155.2 994.0 1158.3 995.7 1161.3 998.0C1164.4 1000.3 1167.5 1003.2 1170.5 1006.1C1173.6 1009.0 1177.1 1013.1 1179.8 1015.3C1182.5 1017.5 1184.4 1018.8 1186.7 1019.5C1189.0 1020.1 1191.3 1020.1 1193.6 1019.5C1195.9 1018.8 1197.8 1017.7 1200.5 1015.3C1203.2 1012.9 1206.7 1008.8 1209.7 1004.9C1212.8 1001.1 1215.9 996.3 1219.0 992.2C1222.0 988.2 1225.1 983.9 1228.2 980.7C1231.3 977.6 1234.3 975.1 1237.4 973.3C1240.5 971.6 1243.2 971.1 1246.6 970.3C1250.1 969.6 1254.3 969.5 1258.2 968.7C1262.0 968.0 1265.8 966.5 1269.7 965.7C1273.5 965.0 1277.0 964.3 1281.2 964.1C1285.4 963.9 1290.4 964.2 1295.0 964.6C1299.7 965.0 1304.6 965.5 1308.9 966.4C1313.1 967.4 1316.3 968.4 1320.4 970.3C1324.5 972.2 1329.5 975.3 1333.5 977.8C1337.4 980.3 1340.9 983.0 1344.2 985.3C1347.6 987.7 1350.6 989.3 1353.4 991.8C1356.3 994.3 1359.2 996.4 1361.5 1000.3C1363.8 1004.2 1365.5 1008.6 1367.3 1015.3C1369.0 1022.0 1370.4 1030.3 1371.9 1040.7C1373.4 1051.0 1375.0 1064.1 1376.5 1077.6C1378.0 1091.0 1379.6 1106.8 1381.1 1121.4C1382.6 1136.0 1384.2 1150.9 1385.7 1165.2C1387.3 1179.4 1388.8 1193.2 1390.3 1206.7C1391.9 1220.1 1393.4 1233.2 1394.9 1245.9C1396.5 1258.5 1398.0 1271.8 1399.6 1282.7C1401.1 1293.7 1402.6 1303.9 1404.2 1311.6C1405.8 1319.2 1407.4 1328.4 1409.2 1328.4C1411.0 1328.4 1413.0 1319.5 1415.0 1311.6C1417.0 1303.6 1419.4 1292.5 1421.5 1280.4C1423.5 1268.3 1425.5 1252.4 1427.2 1238.9C1428.9 1225.5 1430.3 1212.8 1431.8 1199.7C1433.4 1186.7 1434.9 1173.6 1436.4 1160.5C1438.0 1147.5 1439.5 1133.7 1441.1 1121.4C1442.6 1109.1 1443.9 1097.9 1445.7 1086.8C1447.4 1075.6 1449.3 1064.1 1451.4 1054.5C1453.5 1044.9 1455.8 1036.8 1458.3 1029.1C1460.8 1021.5 1463.5 1014.3 1466.4 1008.4C1469.3 1002.4 1472.2 997.6 1475.6 993.4C1479.1 989.3 1482.9 985.9 1487.2 983.5C1491.4 981.1 1496.0 979.8 1501.0 978.9C1506.0 978.0 1511.8 978.3 1517.1 978.0C1522.5 977.6 1527.5 977.3 1533.3 976.6C1539.0 975.9 1545.6 974.5 1551.7 973.8C1557.9 973.1 1564.0 972.6 1570.2 972.2C1576.3 971.8 1580.8 971.6 1588.6 971.5C1596.4 971.4 1611.5 971.5 1616.7 971.5C1622.0 971.5 1619.6 971.5 1620.2 971.5" fill="none" stroke="#000" stroke-width="7.2" stroke-linejoin="round" stroke-linecap="butt"/>
<line x1="452.0" y1="221.0" x2="452.0" y2="780.0" stroke="#000" stroke-width="7.4" stroke-dasharray="22 8" stroke-dashoffset="3.4"/>
<line x1="625.8" y1="201.5" x2="625.8" y2="1226.0" stroke="#000" stroke-width="7.4" stroke-dasharray="22 8" stroke-dashoffset="0.5"/>
<line x1="684.6" y1="190.0" x2="681.8" y2="1219.0" stroke="#000" stroke-width="7.4" stroke-dasharray="22 8" stroke-dashoffset="0.1"/>
<line x1="769.0" y1="170.0" x2="771.7" y2="1121.4" stroke="#000" stroke-width="7.4" stroke-dasharray="22 8" stroke-dashoffset="2.0"/>
<line x1="950.4" y1="247.6" x2="950.4" y2="1013.0" stroke="#000" stroke-width="7.4" stroke-dasharray="22 8" stroke-dashoffset="29.9"/>
<line x1="1193.0" y1="310.0" x2="1193.1" y2="1060.0" stroke="#000" stroke-width="7.4" stroke-dasharray="22 8" stroke-dashoffset="2.0"/>
<line x1="1406.5" y1="231.4" x2="1409.0" y2="1343.4" stroke="#000" stroke-width="7.4" stroke-dasharray="22 8" stroke-dashoffset="29.4"/>
<line x1="1439.4" y1="252.0" x2="1436.4" y2="720.0" stroke="#000" stroke-width="7.4" stroke-dasharray="22 8" stroke-dashoffset="2.1"/>
<rect x="148.0" y="33.5" width="1472.2" height="1446.8" fill="none" stroke="#000" stroke-width="7.5"/>
<line x1="148.0" y1="1480.3" x2="148.0" y2="1504.0" stroke="#000" stroke-width="7.5"/>
<line x1="393.4" y1="1480.3" x2="393.4" y2="1504.0" stroke="#000" stroke-width="7.5"/>
<line x1="638.7" y1="1480.3" x2="638.7" y2="1504.0" stroke="#000" stroke-width="7.5"/>
<line x1="884.1" y1="1480.3" x2="884.1" y2="1504.0" stroke="#000" stroke-width="7.5"/>
<line x1="1129.5" y1="1480.3" x2="1129.5" y2="1504.0" stroke="#000" stroke-width="7.5"/>
<line x1="1374.8" y1="1480.3" x2="1374.8" y2="1504.0" stroke="#000" stroke-width="7.5"/>
<line x1="1620.2" y1="1480.3" x2="1620.2" y2="1504.0" stroke="#000" stroke-width="7.5"/>
<text transform="translate(63.75 1598.30) scale(0.9650 1)" font-family="'Liberation Sans', sans-serif" font-size="79.2" fill="#000" stroke="#000" stroke-width="0.30">1700</text>
<text transform="translate(309.11 1598.30) scale(0.9650 1)" font-family="'Liberation Sans', sans-serif" font-size="79.2" fill="#000" stroke="#000" stroke-width="0.30">1650</text>
<text transform="translate(554.48 1598.30) scale(0.9650 1)" font-family="'Liberation Sans', sans-serif" font-size="79.2" fill="#000" stroke="#000" stroke-width="0.30">1600</text>
<text transform="translate(799.85 1598.30) scale(0.9650 1)" font-family="'Liberation Sans', sans-serif" font-size="79.2" fill="#000" stroke="#000" stroke-width="0.30">1550</text>
<text transform="translate(1045.21 1598.30) scale(0.9650 1)" font-family="'Liberation Sans', sans-serif" font-size="79.2" fill="#000" stroke="#000" stroke-width="0.30">1500</text>
<text transform="translate(1290.58 1598.30) scale(0.9650 1)" font-family="'Liberation Sans', sans-serif" font-size="79.2" fill="#000" stroke="#000" stroke-width="0.30">1450</text>
<text transform="translate(1535.95 1598.30) scale(0.9650 1)" font-family="'Liberation Sans', sans-serif" font-size="79.2" fill="#000" stroke="#000" stroke-width="0.30">1400</text>
<text transform="translate(588.03 1704.30) scale(0.9850 1)" font-family="'Liberation Sans', sans-serif" font-size="95.0" fill="#000" stroke="#000" stroke-width="0.30">Wavenumber / cm<tspan font-size="61.5" x="765.93" dy="-28.5">-<tspan dx="4">1</tspan></tspan></text>
<text transform="translate(98.80 1049.70) rotate(-90) scale(1.0000 1)" font-family="'Liberation Sans', sans-serif" font-size="94.5" fill="#000" stroke="#000" stroke-width="0.30">Absorption</text>
<text transform="translate(192.40 134.40) scale(0.9800 1)" font-family="'Liberation Sans', sans-serif" font-size="79.2" fill="#000" stroke="#000" stroke-width="0.30">5.3</text>
<text transform="translate(198.55 262.00) scale(0.9800 1)" font-family="'Liberation Sans', sans-serif" font-size="79.2" fill="#000" stroke="#000" stroke-width="0.30">4.6</text>
<text transform="translate(196.90 382.00) scale(0.9800 1)" font-family="'Liberation Sans', sans-serif" font-size="79.2" fill="#000" stroke="#000" stroke-width="0.30">3.1</text>
<text transform="translate(191.98 561.40) scale(0.9800 1)" font-family="'Liberation Sans', sans-serif" font-size="79.2" fill="#000" stroke="#000" stroke-width="0.30">1.7</text>
<text transform="translate(195.60 785.40) scale(0.9800 1)" font-family="'Liberation Sans', sans-serif" font-size="79.2" fill="#000" stroke="#000" stroke-width="0.30">0.9</text>
<text transform="translate(194.60 987.40) scale(0.9800 1)" font-family="'Liberation Sans', sans-serif" font-size="79.2" fill="#000" stroke="#000" stroke-width="0.30">0.0</text>
<text transform="translate(831.02 146.40) scale(0.9800 1)" font-family="'Liberation Sans', sans-serif" font-size="79.2" fill="#000" stroke="#000" stroke-width="0.30">xSZ</text>
<text transform="translate(478.00 964.26) rotate(-90) scale(0.9750 1)" font-family="'Liberation Serif', serif" font-size="78.0" fill="#000">1640</text>
<text transform="translate(613.40 1388.30) rotate(-90) scale(0.9600 1)" font-family="'Liberation Sans', sans-serif" font-size="79.2" fill="#000" stroke="#000" stroke-width="0.80">1604</text>
<text transform="translate(712.60 1407.70) rotate(-90) scale(0.9600 1)" font-family="'Liberation Sans', sans-serif" font-size="79.2" fill="#000" stroke="#000" stroke-width="0.80">1593</text>
<text transform="translate(808.20 1319.20) rotate(-90) scale(0.9600 1)" font-family="'Liberation Sans', sans-serif" font-size="79.2" fill="#000" stroke="#000" stroke-width="0.80">1574</text>
<text transform="translate(992.20 1208.90) rotate(-90) scale(0.9600 1)" font-family="'Liberation Sans', sans-serif" font-size="79.2" fill="#000" stroke="#000" stroke-width="0.80">1537</text>
<text transform="translate(1217.40 1246.90) rotate(-90) scale(0.9600 1)" font-family="'Liberation Sans', sans-serif" font-size="79.2" fill="#000" stroke="#000" stroke-width="0.80">1487</text>
<text transform="translate(1503.60 1454.70) rotate(-90) scale(0.9600 1)" font-family="'Liberation Sans', sans-serif" font-size="79.2" fill="#000" stroke="#000" stroke-width="0.80">1442</text>
<text transform="translate(1582.40 793.70) rotate(-90) scale(0.9600 1)" font-family="'Liberation Sans', sans-serif" font-size="79.2" fill="#000" stroke="#000" stroke-width="0.80">1438</text>
<line x1="164.9" y1="1121.4" x2="244.9" y2="1121.4" stroke="#000" stroke-width="7.4"/>
<line x1="167.7" y1="1431" x2="246.2" y2="1431" stroke="#000" stroke-width="7.4"/>
<line x1="204" y1="1121" x2="204" y2="1231" stroke="#000" stroke-width="7"/>
<line x1="210" y1="1319" x2="210" y2="1431" stroke="#000" stroke-width="7"/>
<text transform="translate(168.43 1309.80) scale(1.0300 1)" font-family="'Liberation Serif', serif" font-size="76.0" fill="#000">40</text>
<polygon points="1435.3,722.5 1481.4,738.6 1465,750 1448,769.8" fill="#000"/>
<line x1="1462" y1="748" x2="1505.9" y2="796.4" stroke="#000" stroke-width="7.2"/>
</svg>
</body></html>
